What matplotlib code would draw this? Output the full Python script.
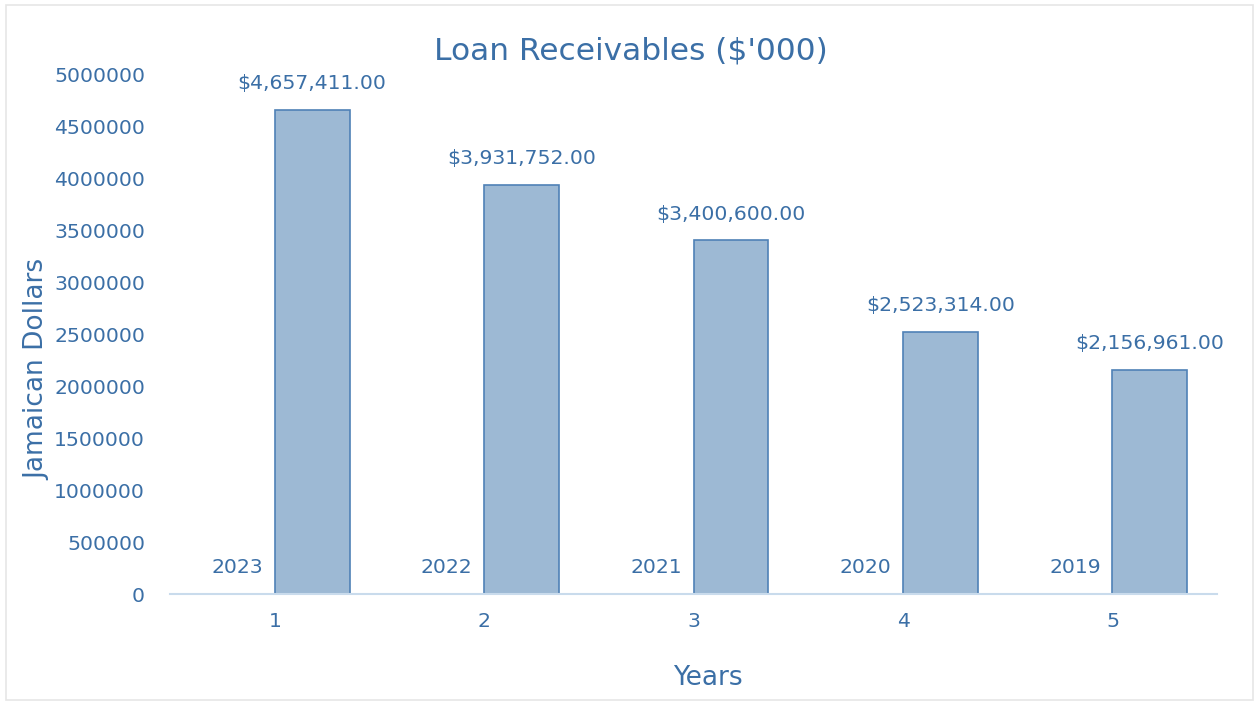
import matplotlib
matplotlib.use("Agg")
import matplotlib.pyplot as plt
from matplotlib.patches import Rectangle
import numpy as np

TEXT = "#3b6fa6"
FILL = "#9db9d4"
EDGE = "#4f81b6"
AXIS = "#c9dbec"

categories = ["1", "2", "3", "4", "5"]
years = [2023, 2022, 2021, 2020, 2019]
loans = [4657411, 3931752, 3400600, 2523314, 2156961]

fig = plt.figure(figsize=(12.54, 7.03), dpi=100, facecolor="white")
fig.patches.append(Rectangle((0.005, 0.004), 0.994, 0.989, transform=fig.transFigure,
                             facecolor="none", edgecolor="#e6e6e6", linewidth=1.2))
ax = fig.add_axes([0.1356, 0.155, 0.835, 0.7397])

x = np.arange(len(categories))
w = 1 / 2.8  # two series, 80% gap width

yr_bars = ax.bar(x - w / 2, years, width=w, color=FILL, edgecolor=EDGE, linewidth=1.2)
ln_bars = ax.bar(x + w / 2, loans, width=w, color=FILL, edgecolor=EDGE, linewidth=1.2)

ax.bar_label(yr_bars, labels=[str(v) for v in years], padding=12,
             color=TEXT, fontsize=14.7)
ax.bar_label(ln_bars, labels=[f"${v:,.2f}" for v in loans], padding=12,
             color=TEXT, fontsize=14.7)

ax.set_xlim(-0.5, 4.5)
ax.set_ylim(0, 5000000)
ax.set_yticks(np.arange(0, 5000001, 500000))
ax.set_yticklabels([str(v) for v in range(0, 5000001, 500000)])
ax.set_xticks(x)
ax.set_xticklabels(categories)
ax.tick_params(axis="y", length=0, pad=18, labelsize=14.7, labelcolor=TEXT)
ax.tick_params(axis="x", length=0, pad=13, labelsize=14.7, labelcolor=TEXT)

for side in ("top", "right", "left"):
    ax.spines[side].set_visible(False)
ax.spines["bottom"].set_color(AXIS)
ax.spines["bottom"].set_linewidth(1.5)

fig.text(0.503, 1 - 51 / 703, "Loan Receivables ($'000)", color=TEXT,
         fontsize=22.5, ha="center", va="center")
ax.set_ylabel("Jamaican Dollars", color=TEXT, fontsize=19, va="center")
ax.yaxis.set_label_coords(-0.127, 0.431)
ax.set_xlabel("Years", color=TEXT, fontsize=19, va="center")
ax.xaxis.set_label_coords(0.514, -0.161)

fig.savefig("out.png", dpi=100, facecolor="white")
